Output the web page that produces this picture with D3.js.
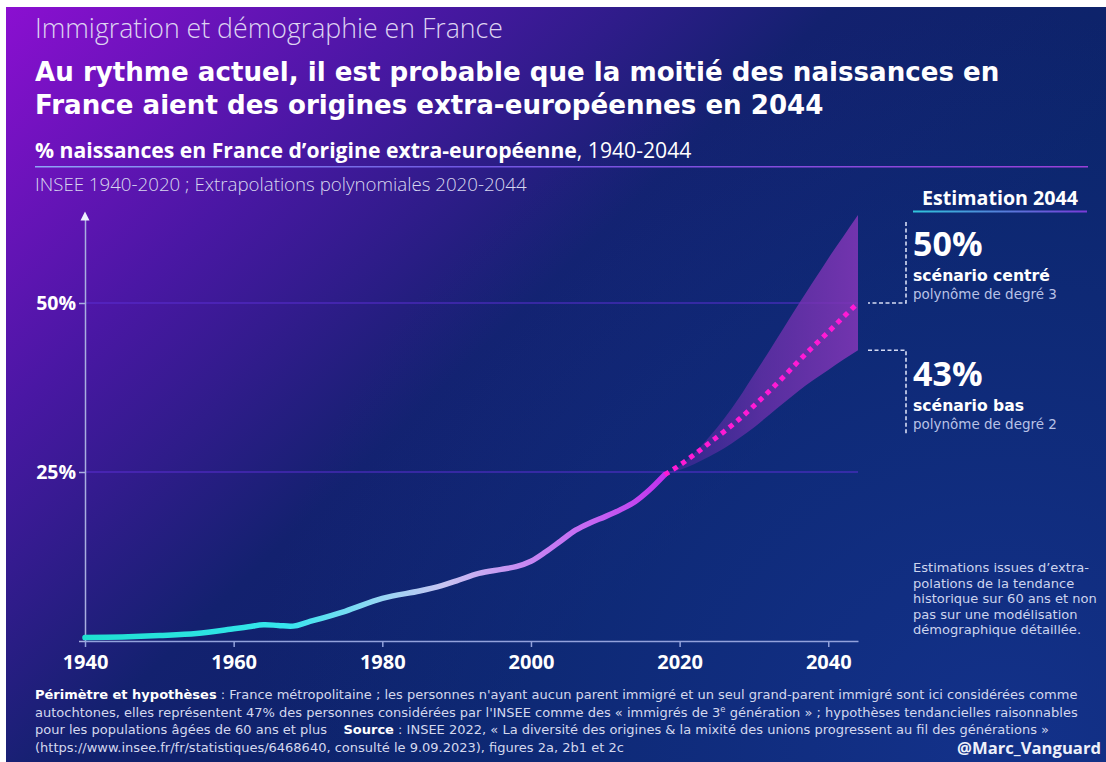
<!DOCTYPE html>
<html>
<head>
<meta charset="utf-8">
<script src="https://cdn.jsdelivr.net/npm/d3@7"></script>
<style>
  html, body { margin: 0; padding: 0; background: #fff; }
  svg { display: block; }
  text { white-space: pre; }
</style>
</head>
<body>
<div id="chart"></div>
<script>
// % of births in France with extra-European origin (INSEE 1940-2018)
var years = [1940, 1945, 1950, 1955, 1960, 1962, 1964, 1966, 1968, 1970, 1975, 1980, 1985, 1988,
             1990, 1993, 1996, 1998, 2000, 2002, 2004, 2006, 2008, 2010, 2012, 2014, 2016, 2018];
var share = [0.5, 0.6, 0.8, 1.1, 1.8, 2.1, 2.4, 2.3, 2.2, 2.8, 4.4, 6.3, 7.4, 8.2,
             8.9, 10.0, 10.6, 11.0, 11.8, 13.2, 14.8, 16.4, 17.5, 18.4, 19.4, 20.6, 22.4, 24.6];

// polynomial extrapolations 2018-2044
var projYears = [2018, 2020, 2022, 2024, 2026, 2028, 2030, 2032, 2034, 2036, 2038, 2040, 2042, 2044];
var centre    = [24.6, 26.0, 27.6, 29.3, 31.0, 32.8, 34.8, 36.9, 39.1, 41.4, 43.6, 45.7, 47.9, 50.0];
var high      = [24.6, 25.9, 27.8, 30.2, 32.9, 36.0, 39.4, 42.8, 46.3, 49.8, 53.2, 56.6, 59.8, 63.0];
var low       = [24.6, 25.3, 26.2, 27.3, 28.5, 30.0, 31.6, 33.4, 35.2, 37.0, 38.6, 40.1, 41.6, 43.0];

var xTicks = [1940, 1960, 1980, 2000, 2020, 2040];
var yTicks = [25, 50];

var WIDTH = 1106, HEIGHT = 762;
var FONT = "'Open Sans', 'DejaVu Sans', sans-serif";
var WIDE = "'DejaVu Sans', 'Open Sans', sans-serif";

var svg = d3.select("#chart")
    .append("svg")
    .attr("width", WIDTH)
    .attr("height", HEIGHT)
    .style("font-family", FONT);

var defs = svg.append("defs");

// background: violet top-left fading into navy
var bg = defs.append("linearGradient").attr("id", "bg")
    .attr("gradientUnits", "userSpaceOnUse")
    .attr("x1", 0).attr("y1", 0).attr("x2", 600).attr("y2", 620);
bg.append("stop").attr("offset", 0).attr("stop-color", "#8d0fd2");
bg.append("stop").attr("offset", 0.35).attr("stop-color", "#4a17a4");
bg.append("stop").attr("offset", 0.68).attr("stop-color", "#13216f");
bg.append("stop").attr("offset", 1).attr("stop-color", "#0b2469");

var glow = defs.append("radialGradient").attr("id", "glow")
    .attr("gradientUnits", "userSpaceOnUse")
    .attr("cx", 1000).attr("cy", 762).attr("r", 750);
glow.append("stop").attr("offset", 0).attr("stop-color", "#14338e").attr("stop-opacity", 0.9);
glow.append("stop").attr("offset", 1).attr("stop-color", "#14338e").attr("stop-opacity", 0);

svg.append("rect").attr("x", 6).attr("y", 7).attr("width", WIDTH - 6).attr("height", HEIGHT - 7).attr("fill", "url(#bg)");
svg.append("rect").attr("x", 6).attr("y", 7).attr("width", WIDTH - 6).attr("height", HEIGHT - 7).attr("fill", "url(#glow)");

// scale the font so the text spans w pixels
function fitTo(t, w) {
    var l = t.node().getComputedTextLength();
    t.attr("font-size", parseFloat(t.attr("font-size")) * w / l);
    return parseFloat(t.attr("font-size"));
}

// ---- header ----
var kicker = svg.append("text").attr("x", 35).attr("y", 38)
    .attr("font-size", 21).attr("font-weight", 300).attr("fill", "#ddd3f1")
    .text("Immigration et démographie en France");
fitTo(kicker, 468);

var t1 = svg.append("text").attr("x", 35).attr("y", 81)
    .attr("font-size", 24).attr("font-weight", 700).attr("font-family", WIDE).attr("fill", "#fff")
    .text("Au rythme actuel, il est probable que la moitié des naissances en");
var tSize = fitTo(t1, 965);
svg.append("text").attr("x", 35).attr("y", 114)
    .attr("font-size", tSize).attr("font-weight", 700).attr("font-family", WIDE).attr("fill", "#fff")
    .text("France aient des origines extra-européennes en 2044");

var sub = svg.append("text").attr("x", 35).attr("y", 158)
    .attr("font-size", 19).attr("fill", "#fff");
sub.append("tspan").attr("font-weight", 700).text("% naissances en France d’origine extra-européenne");
sub.append("tspan").attr("font-weight", 400).text(", 1940-2044");
fitTo(sub, 657);

var rule = defs.append("linearGradient").attr("id", "rule");
rule.append("stop").attr("offset", 0).attr("stop-color", "#8fa6f6");
rule.append("stop").attr("offset", 0.4).attr("stop-color", "#6f58e2");
rule.append("stop").attr("offset", 1).attr("stop-color", "#9a3fd8");
svg.append("rect").attr("x", 35).attr("y", 166).attr("width", 1053).attr("height", 1.5).attr("fill", "url(#rule)");

var src = svg.append("text").attr("x", 35).attr("y", 191)
    .attr("font-size", 16).attr("font-weight", 300).attr("fill", "#d8d8ef")
    .text("INSEE 1940-2020 ; Extrapolations polynomiales 2020-2044");
fitTo(src, 492);

// ---- scales ----
var x = d3.scaleLinear().domain([1940, 2044]).range([85, 858]);
var y = d3.scaleLinear().domain([0, 50]).range([641, 303]);
var yTop = 62.5;

// gridlines
svg.append("g").selectAll("line")
    .data(yTicks)
    .enter().append("line")
    .attr("x1", x(1940)).attr("x2", x(2044))
    .attr("y1", function(d) { return y(d); })
    .attr("y2", function(d) { return y(d); })
    .attr("stroke", "#5a2fd4").attr("stroke-width", 1.2);

// x axis
var xAxis = svg.append("g")
    .attr("transform", "translate(0," + y(0) + ")")
    .call(d3.axisBottom(x).tickValues(xTicks).tickFormat(d3.format("d")).tickSize(6).tickSizeOuter(0).tickPadding(8));
xAxis.select(".domain").attr("stroke", "#93a2dc").attr("stroke-width", 1.5);
xAxis.selectAll(".tick line").attr("stroke", "#93a2dc").attr("stroke-width", 1.5);
xAxis.selectAll("text").attr("fill", "#fff").attr("font-size", 20).attr("font-weight", 700).attr("font-family", FONT);

// y axis
var yAxis = svg.append("g")
    .attr("transform", "translate(" + x(1940) + ",0)")
    .call(d3.axisLeft(y.copy().domain([0, yTop]).range([y(0), y(yTop)]))
        .tickValues([0].concat(yTicks)).tickFormat(function(d) { return d ? d + "%" : ""; })
        .tickSize(6).tickSizeOuter(0).tickPadding(3));
yAxis.select(".domain").attr("stroke", "#a8aee0").attr("stroke-width", 1.5);
yAxis.selectAll(".tick line").attr("stroke", "#a8aee0").attr("stroke-width", 1.5);
yAxis.selectAll("text").attr("fill", "#fff").attr("font-size", 19.5).attr("font-weight", 700).attr("font-family", FONT);
svg.append("path")
    .attr("d", "M" + (x(1940) - 4.5) + "," + (y(yTop) + 2) + "L" + (x(1940) + 4.5) + "," + (y(yTop) + 2) + "L" + x(1940) + "," + (y(yTop) - 7) + "Z")
    .attr("fill", "#eef0ff");

// ---- projection band ----
var proj = projYears.map(function(d, i) { return { year: d, centre: centre[i], high: high[i], low: low[i] }; });

var bandGrad = defs.append("linearGradient").attr("id", "band")
    .attr("gradientUnits", "userSpaceOnUse")
    .attr("x1", x(2018)).attr("x2", x(2044)).attr("y1", 0).attr("y2", 0);
bandGrad.append("stop").attr("offset", 0).attr("stop-color", "#5a2aa6").attr("stop-opacity", 0.4);
bandGrad.append("stop").attr("offset", 0.5).attr("stop-color", "#7230ae").attr("stop-opacity", 0.72);
bandGrad.append("stop").attr("offset", 1).attr("stop-color", "#8036b6").attr("stop-opacity", 0.88);

svg.append("path")
    .datum(proj)
    .attr("fill", "url(#band)")
    .attr("d", d3.area()
        .x(function(d) { return x(d.year); })
        .y0(function(d) { return y(d.low); })
        .y1(function(d) { return y(d.high); })
        .curve(d3.curveMonotoneX));

// ---- historical line ----
var lineGrad = defs.append("linearGradient").attr("id", "hist")
    .attr("gradientUnits", "userSpaceOnUse")
    .attr("x1", x(1940)).attr("x2", x(2018)).attr("y1", 0).attr("y2", 0);
[[0, "#1ee0d0"], [0.35, "#36e6ee"], [0.5, "#92d8f4"], [0.62, "#c8c4f2"],
 [0.75, "#c78cf2"], [0.88, "#c464f2"], [1, "#c032ee"]].forEach(function(s) {
    lineGrad.append("stop").attr("offset", s[0]).attr("stop-color", s[1]);
});

var hist = years.map(function(d, i) { return { year: d, v: share[i] }; });
svg.append("path")
    .datum(hist)
    .attr("fill", "none")
    .attr("stroke", "url(#hist)")
    .attr("stroke-width", 5.5)
    .attr("stroke-linecap", "round")
    .attr("d", d3.line()
        .x(function(d) { return x(d.year); })
        .y(function(d) { return y(d.v); })
        .curve(d3.curveCatmullRom.alpha(0.5)));

// central scenario, dotted
svg.append("path")
    .datum(proj)
    .attr("fill", "none")
    .attr("stroke", "#ff1ad4")
    .attr("stroke-width", 5)
    .attr("stroke-dasharray", "5 5")
    .attr("d", d3.line()
        .x(function(d) { return x(d.year); })
        .y(function(d) { return y(d.centre); })
        .curve(d3.curveMonotoneX));

// ---- right-hand annotations ----
var est = svg.append("text").attr("x", 1000).attr("y", 205).attr("text-anchor", "middle")
    .attr("font-size", 18).attr("font-weight", 700).attr("fill", "#fff").text("Estimation 2044");
fitTo(est, 156);
var estGrad = defs.append("linearGradient").attr("id", "estRule");
estGrad.append("stop").attr("offset", 0).attr("stop-color", "#2fc6dc");
estGrad.append("stop").attr("offset", 1).attr("stop-color", "#7a3ad8");
svg.append("rect").attr("x", 913).attr("y", 210.5).attr("width", 174).attr("height", 2).attr("fill", "url(#estRule)");

function bracket(points) {
    svg.append("path")
        .attr("d", d3.line()(points))
        .attr("fill", "none")
        .attr("stroke", "#d6dcf4")
        .attr("stroke-width", 1.6)
        .attr("stroke-dasharray", "4 2.5");
}
bracket([[906, 222], [906, y(50)], [868, y(50)]]);
bracket([[868, y(43)], [906, y(43)], [906, 435]]);

function scenario(top, pct, name, poly) {
    svg.append("text").attr("x", 913).attr("y", top)
        .attr("font-size", 34).attr("font-weight", 700).attr("fill", "#fff").text(pct);
    var n = svg.append("text").attr("x", 913).attr("y", top + 25)
        .attr("font-size", 16).attr("font-weight", 700).attr("font-family", WIDE).attr("fill", "#fff").text(name);
    var p = svg.append("text").attr("x", 913).attr("y", top + 43)
        .attr("font-size", 12.5).attr("font-weight", 400).attr("font-family", WIDE).attr("fill", "#b9c2e6").text(poly);
    return [n, p];
}
var s1 = scenario(256, "50%", "scénario centré", "polynôme de degré 3");
var nameSize = fitTo(s1[0], 137);
var polySize = fitTo(s1[1], 144);
var s2 = scenario(386, "43%", "scénario bas", "polynôme de degré 2");
s2[0].attr("font-size", nameSize);
s2[1].attr("font-size", polySize);

var note = ["Estimations issues d’extra-", "polations de la tendance", "historique sur 60 ans et non",
            "pas sur une modélisation", "démographique détaillée."];
var noteG = svg.append("g").attr("font-family", WIDE);
note.forEach(function(l, i) {
    noteG.append("text").attr("x", 913).attr("y", 572 + i * 15.5)
        .attr("font-size", 12).attr("fill", "#cdd4ee").text(l);
});
var ref = noteG.selectAll("text").filter(function(d, i) { return i === 2; });
var noteSize = fitTo(ref, 184);
noteG.selectAll("text").attr("font-size", noteSize);

// ---- footer ----
var foot = svg.append("g").attr("fill", "#d4d8ee").attr("font-family", WIDE);
var f1 = foot.append("text").attr("x", 35).attr("y", 699).attr("font-size", 12.5);
f1.append("tspan").attr("font-weight", 700).attr("fill", "#fff").text("Périmètre et hypothèses");
f1.append("tspan").text(" : France métropolitaine ; les personnes n'ayant aucun parent immigré et un seul grand-parent immigré sont ici considérées comme");
var fSize = fitTo(f1, 1043);

var f2 = foot.append("text").attr("x", 35).attr("y", 716.5).attr("font-size", fSize);
f2.append("tspan").text("autochtones, elles représentent 47% des personnes considérées par l'INSEE comme des « immigrés de 3");
f2.append("tspan").attr("dy", -5).attr("font-size", fSize * 0.65).text("e");
f2.append("tspan").attr("dy", 5).text(" génération » ; hypothèses tendancielles raisonnables");

var f3 = foot.append("text").attr("x", 35).attr("y", 734).attr("font-size", fSize);
f3.append("tspan").text("pour les populations âgées de 60 ans et plus    ");
f3.append("tspan").attr("font-weight", 700).attr("fill", "#fff").text("Source");
f3.append("tspan").text(" : INSEE 2022, « La diversité des origines & la mixité des unions progressent au fil des générations »");

foot.append("text").attr("x", 35).attr("y", 751.5).attr("font-size", fSize)
    .text("(https://www.insee.fr/fr/statistiques/6468640, consulté le 9.09.2023), figures 2a, 2b1 et 2c");

var sig = svg.append("text").attr("x", 1101).attr("y", 754).attr("text-anchor", "end")
    .attr("font-size", 18).attr("font-weight", 700).attr("fill", "#eef0fa").text("@Marc_Vanguard");
fitTo(sig, 144);
</script>
</body>
</html>
